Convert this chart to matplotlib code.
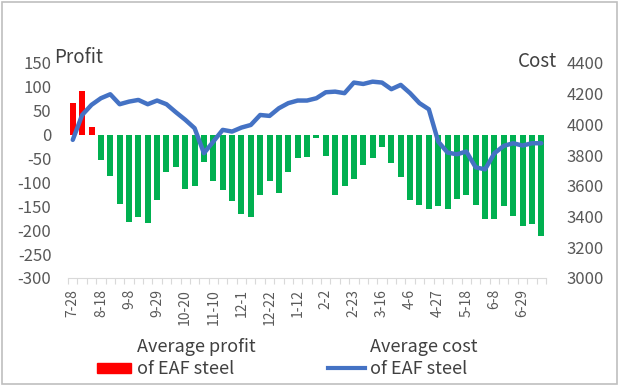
import matplotlib.pyplot as plt
import numpy as np
from matplotlib.patches import Rectangle
from matplotlib.lines import Line2D

plt.rcParams['font.family'] = ['Noto Sans CJK SC', 'DejaVu Sans']

# Weekly data, 7-28 to 7-13 (51 weeks)
tick_labels = ["7-28", "8-18", "9-8", "9-29", "10-20", "11-10", "12-1", "12-22",
               "1-12", "2-2", "2-23", "3-16", "4-6", "4-27", "5-18", "6-8", "6-29"]

profit = [66, 91, 16, -54, -86, -146, -183, -172, -186, -136,
          -79, -68, -114, -108, -57, -98, -115, -139, -167, -172,
          -127, -98, -122, -78, -50, -47, -7, -45, -126, -108,
          -93, -63, -49, -26, -59, -89, -137, -148, -155, -150,
          -155, -134, -126, -148, -177, -176, -150, -170, -192, -188,
          -213]

cost = [3899, 4061, 4127, 4170, 4196, 4131, 4148, 4159, 4131, 4155,
        4131, 4079, 4030, 3975, 3812, 3888, 3964, 3953, 3979, 3996,
        4061, 4055, 4105, 4138, 4155, 4155, 4170, 4209, 4213, 4203,
        4272, 4263, 4278, 4272, 4229, 4257, 4203, 4138, 4098, 3888,
        3816, 3805, 3823, 3720, 3707, 3812, 3860, 3877, 3862, 3877,
        3877]

red = "#FF0000"
green = "#00B050"
blue = "#4472C4"
grey = "#595959"

fig = plt.figure(figsize=(6.19, 3.86), dpi=100)
ax = fig.add_axes([0.110, 0.280, 0.772, 0.557])
ax2 = ax.twinx()

x = np.arange(len(profit))
colors = [red if v > 0 else green for v in profit]
ax.bar(x, profit, width=0.64, color=colors, zorder=2)
ax2.plot(x, cost, color=blue, linewidth=3.2, solid_capstyle="round", zorder=3)

ax.set_xlim(-0.5, len(profit) - 0.5)
ax.set_ylim(-300, 150)
ax2.set_ylim(3000, 4400)

yt = np.arange(-300, 151, 50)
ax.set_yticks(yt)
ax.set_yticklabels([str(v) for v in yt], fontsize=12, color=grey)
ax.tick_params(axis="y", length=0, pad=12)
ax2.set_yticks(np.arange(3000, 4401, 200))
ax2.set_yticklabels([str(v) for v in range(3000, 4401, 200)], fontsize=12, color=grey)
ax2.tick_params(axis="y", length=0, pad=15)

ax.set_xticks(x[::3])
ax.set_xticklabels(tick_labels, rotation=90, fontsize=10, color=grey, va="top")
ax.set_xticks(np.arange(-0.5, len(profit), 1), minor=True)
ax.tick_params(axis="x", which="major", length=0, pad=8)
ax.tick_params(axis="x", which="minor", length=4, color="#D9D9D9", width=0.8)

for a in (ax, ax2):
    for s in ["top", "left", "right", "bottom"]:
        a.spines[s].set_visible(False)
ax.spines["bottom"].set_visible(True)
ax.spines["bottom"].set_color("#D9D9D9")

fig.text(54 / 619, 1 - 63 / 386, "Profit", fontsize=13.5, color="#404040", va="baseline")
fig.text(518 / 619, 1 - 67 / 386, "Cost", fontsize=13.5, color="#404040", va="baseline")

# legend
fig.patches.append(Rectangle((97 / 619, 1 - 373 / 386), 34 / 619, 10 / 386,
                             transform=fig.transFigure, color=red))
fig.lines.append(Line2D([328 / 619, 365 / 619], [1 - 368 / 386, 1 - 368 / 386],
                        transform=fig.transFigure, color=blue, linewidth=3))
fig.text(137 / 619, 1 - 358 / 386, "Average profit\nof EAF steel", fontsize=13,
         color="#404040", va="center", linespacing=1.3)
fig.text(370 / 619, 1 - 358 / 386, "Average cost\nof EAF steel", fontsize=13,
         color="#404040", va="center", linespacing=1.3)

# outer frame
fig.patches.append(Rectangle((1.5 / 619, 2 / 386), 615 / 619, 382 / 386,
                             transform=fig.transFigure, fill=False,
                             edgecolor="#BFBFBF", linewidth=1.2))

fig.savefig("out.png", dpi=100)
